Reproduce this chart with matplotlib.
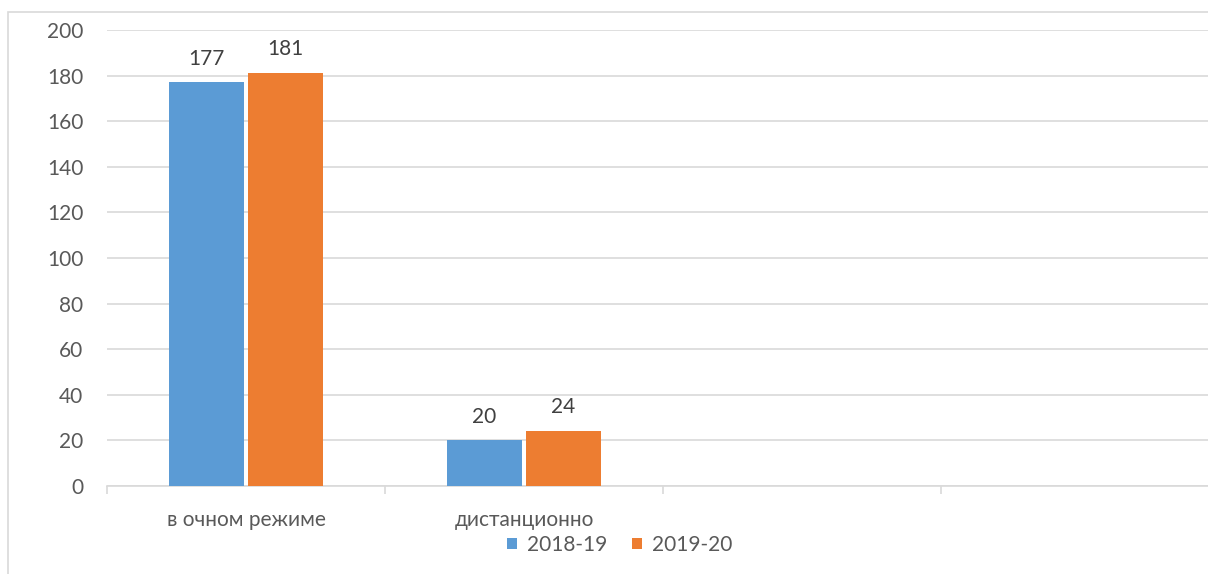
import numpy as np
import matplotlib.pyplot as plt
from matplotlib.patches import Rectangle

categories = ['в очном режиме', 'дистанционно', '', '']
series_names = ['2018-19', '2019-20']
vals_2018 = [177, 20, None, None]
vals_2019 = [181, 24, None, None]
colors = ['#5B9BD5', '#ED7D31']

plt.rcParams['font.family'] = ['Lato', 'DejaVu Sans']
txt = '#595959'
grid = '#D9D9D9'
fs = 15

fig = plt.figure(figsize=(12.08, 5.74), dpi=100)
W, H = 1208.0, 574.0
ax = fig.add_axes([107 / W, (574 - 486) / H, (1219 - 107) / W, (486 - 30) / H])

# outer chart frame (right/bottom cut off)
fig.patches.append(Rectangle((8 / W, -0.1), 1.2, (574 - 12) / H + 0.1, transform=fig.transFigure,
                             fill=False, edgecolor=grid, linewidth=1.2))

index = np.arange(len(categories))
bar_width = 0.27
off = 0.142
handles = []
for k, (vals, c) in enumerate(zip([vals_2018, vals_2019], colors)):
    xs = [i + (off if k else -off) for i, v in enumerate(vals) if v is not None]
    ys = [v for v in vals if v is not None]
    b = ax.bar(xs, ys, bar_width, color=c, label=series_names[k], zorder=3)
    handles.append(b)
    for x, y in zip(xs, ys):
        ax.annotate(str(y), (x, y), xytext=(0, 10), textcoords='offset points',
                    ha='center', va='bottom', fontsize=fs, color='#404040')

ax.set_xlim(-0.5, 3.5)
ax.set_ylim(0, 200)
ax.set_yticks(np.arange(0, 201, 20))
ax.yaxis.grid(True, color=grid, linewidth=1.2, zorder=0)
ax.tick_params(axis='y', length=0, pad=17, labelsize=fs, labelcolor=txt)
ax.set_xticks(index)
ax.set_xticklabels(categories)
ax.tick_params(axis='x', which='major', length=0, pad=17, labelsize=fs, labelcolor=txt)
ax.set_xticks(np.arange(-0.5, 4, 1), minor=True)
ax.tick_params(axis='x', which='minor', length=6, width=1.2, color=grid)
for s in ['top', 'right', 'left']:
    ax.spines[s].set_visible(False)
ax.spines['bottom'].set_color(grid)
ax.spines['bottom'].set_linewidth(1.2)

fig.legend(handles=handles, loc='center', bbox_to_anchor=(620 / W, 1 - 545 / H), ncol=2,
           frameon=False, fontsize=fs, handlelength=0.45, handleheight=0.45,
           columnspacing=1.2, handletextpad=0.5, labelcolor=txt)

fig.savefig('out.png', dpi=100)
